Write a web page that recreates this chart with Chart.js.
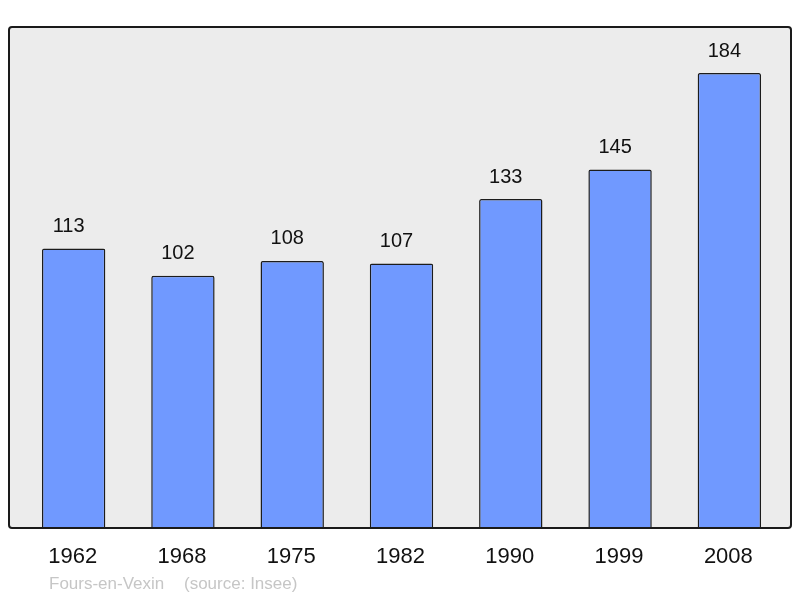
<!DOCTYPE html>
<html>
<head>
<meta charset="utf-8">
<script src="https://cdn.jsdelivr.net/npm/chart.js@4/dist/chart.umd.min.js"></script>
<style>
  html, body { margin: 0; padding: 0; background: #fff; }
  #wrap { width: 800px; height: 598px; }
</style>
</head>
<body>
<div id="wrap"><canvas id="chart" width="800" height="598"></canvas></div>
<script>
'use strict';

// ─── Data ─────────────────────────────────────────────────────────────────────
const years = ['1962', '1968', '1975', '1982', '1990', '1999', '2008'];
const population = [113, 102, 108, 107, 133, 145, 184];
const placeName = 'Fours-en-Vexin';
const sourceNote = '(source: Insee)';

const FONT = '"Liberation Sans", Arial, sans-serif';

// ─── Frame, labels ───────────────────────────────────────────────────────────
function roundRect(ctx, x, y, w, h, r) {
  ctx.beginPath();
  ctx.moveTo(x + r, y);
  ctx.lineTo(x + w - r, y);
  ctx.quadraticCurveTo(x + w, y, x + w, y + r);
  ctx.lineTo(x + w, y + h - r);
  ctx.quadraticCurveTo(x + w, y + h, x + w - r, y + h);
  ctx.lineTo(x + r, y + h);
  ctx.quadraticCurveTo(x, y + h, x, y + h - r);
  ctx.lineTo(x, y + r);
  ctx.quadraticCurveTo(x, y, x + r, y);
  ctx.closePath();
}

const framePlugin = {
  id: 'frame',
  beforeDatasetsDraw(chart) {
    const { ctx, chartArea: a } = chart;
    ctx.save();
    roundRect(ctx, a.left - 10, a.top, a.right - a.left + 17, a.bottom - a.top, 3);
    ctx.fillStyle = '#ececec';
    ctx.fill();
    ctx.restore();
  },
  afterDatasetsDraw(chart) {
    const { ctx, chartArea: a } = chart;
    const x = chart.scales.x;
    const meta = chart.getDatasetMeta(0);
    ctx.save();
    roundRect(ctx, a.left - 10, a.top, a.right - a.left + 17, a.bottom - a.top, 3);
    ctx.lineWidth = 2;
    ctx.strokeStyle = '#1a1a1a';
    ctx.stroke();

    // value labels above bars
    ctx.fillStyle = '#111';
    ctx.font = '20px ' + FONT;
    ctx.textAlign = 'center';
    ctx.textBaseline = 'middle';
    meta.data.forEach((bar, i) => {
      ctx.fillText(String(population[i]), bar.x - 5, bar.y - 22);
    });

    // year labels
    ctx.font = '22px ' + FONT;
    years.forEach((y, i) => {
      ctx.fillText(y, x.getPixelForValue(i) - 1, a.bottom + 29);
    });

    // footer
    ctx.fillStyle = '#c6c6c6';
    ctx.font = '17px ' + FONT;
    ctx.textAlign = 'left';
    ctx.fillText(placeName, 49, a.bottom + 56);
    ctx.fillText(sourceNote, 184, a.bottom + 56);
    ctx.restore();
  }
};

// ─── Chart ────────────────────────────────────────────────────────────────────
new Chart(document.getElementById('chart').getContext('2d'), {
  type: 'bar',
  data: {
    labels: years,
    datasets: [{
      data: population,
      backgroundColor: '#7099ff',
      borderColor: '#1c1c1c',
      borderWidth: 1.5,
      borderSkipped: 'bottom',
      borderRadius: 2,
      categoryPercentage: 1,
      barPercentage: 0.58,
    }]
  },
  options: {
    responsive: false,
    animation: false,
    layout: { padding: { left: 19, right: 16, top: 27, bottom: 70 } },
    plugins: {
      legend: { display: false },
      tooltip: { enabled: false }
    },
    scales: {
      x: { display: false, offset: true },
      y: { display: false, min: 0, max: 202.6 }
    }
  },
  plugins: [framePlugin]
});
</script>
</body>
</html>
